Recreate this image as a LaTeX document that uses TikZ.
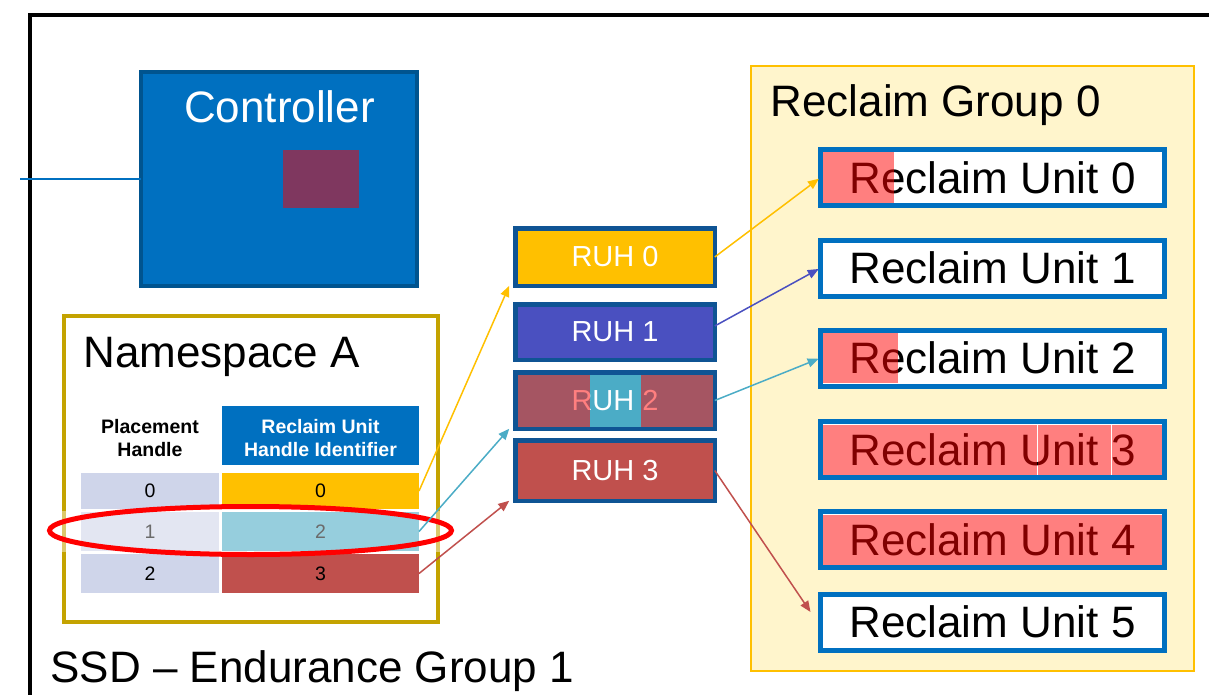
\documentclass[tikz,border=0pt]{standalone}
\usepackage{fontspec}
\setmainfont{Liberation Sans}
\usetikzlibrary{arrows.meta,shapes.geometric}

\definecolor{ctrlblue}{HTML}{0070C0}
\definecolor{ctrledge}{HTML}{00548F}
\definecolor{plum}{HTML}{7F375F}
\definecolor{olive}{HTML}{C4A300}
\definecolor{cellgray}{HTML}{CFD5EA}
\definecolor{amber}{HTML}{FFC000}
\definecolor{tealx}{HTML}{4BACC6}
\definecolor{brick}{HTML}{C0504D}
\definecolor{ruhedge}{HTML}{0F5494}
\definecolor{indigox}{HTML}{4A50C0}
\definecolor{cream}{HTML}{FFF5CC}
\definecolor{ruedge}{HTML}{0070C0}

\newcommand{\bigtxt}{\fontsize{44}{50}\selectfont}
\newcommand{\ruhtxt}{\fontsize{29}{32}\selectfont}
\newcommand{\tabtxt}{\fontsize{19.5}{23}\selectfont}

\tikzset{
  box/.style={rectangle, inner sep=0pt, outer sep=0pt},
  ruhbox/.style={box, draw=ruhedge, line width=4.5pt, minimum width=199.5pt,
    text=white, font=\ruhtxt},
  rubox/.style={box, draw=ruedge, line width=5pt, fill=white, minimum width=344pt,
    minimum height=56pt, font=\bigtxt},
  cell/.style={box, minimum height=36pt, font=\tabtxt},
  lcell/.style={cell, fill=cellgray, minimum width=138pt},
  rcell/.style={cell, minimum width=197pt},
  conn/.style={line width=1.5pt, -{Triangle[length=11pt,width=9pt]}},
  redwash/.style={red, opacity=0.5},
}

\begin{document}
\begin{tikzpicture}[x=1pt,y=-1pt]
\useasboundingbox (0,0) rectangle (1209,695);

% outer frame of the SSD
\draw[line width=4pt, line join=miter] (30,700) -- (30,15) -- (1215,15);

% controller with its host link
\node[box, fill=ctrlblue, draw=ctrledge, line width=4pt,
      minimum width=276pt, minimum height=214pt] (ctrl) at (279,179) {};
\node[anchor=base, text=white, font=\bigtxt] (ctrltxt) at (279.5,123) {Controller};
\node[box, fill=plum, minimum width=76pt, minimum height=58pt] (buf) at (321,179) {};
\coordinate (host) at (20,179);
\draw[ctrlblue, line width=1.5pt] (host) -- (ctrl.west);

% namespace A with its placement handle table
\node[box, draw=olive, line width=4.5pt, minimum width=374pt, minimum height=306pt]
  (ns) at (251,469) {};
\node[anchor=base west, font=\bigtxt] (nstxt) at (80,367) {Namespace A};

\node[align=center, font=\bfseries\tabtxt, anchor=base] (phhead) at (150,456)
  {Placement\\Handle};
\node[box, fill=ctrlblue, minimum width=197pt, minimum height=59pt] (ruhihead)
  at (320.5,435.5) {};
\node[align=center, font=\bfseries\tabtxt, text=white, anchor=base] (ruhitxt)
  at (320.5,456) {Reclaim Unit\\Handle Identifier};

\node[lcell] (p0) at (150,491) {0};
\node[rcell, fill=amber] (r0) at (320.5,491) {0};
\node[lcell, minimum height=39pt] (p1) at (150,531.5) {1};
\node[rcell, fill=tealx, minimum height=39pt] (r1) at (320.5,531.5) {2};
\node[lcell, minimum height=39pt] (p2) at (150,573.5) {2};
\node[rcell, fill=brick, minimum height=39pt] (r2) at (320.5,573.5) {3};

% highlighted row
\fill[white, opacity=0.42] (56,511) rectangle (447,552);
\node[ellipse, draw=red, line width=5pt, minimum width=402pt, minimum height=48pt,
      inner sep=0pt] (hl) at (250.5,530.5) {};

\node[anchor=base west, font=\bigtxt] (ssd) at (47,682) {SSD -- Endurance Group 1};

% reclaim group 0
\node[box, fill=cream, draw=amber, line width=2pt, minimum width=443pt,
      minimum height=605pt] (rg) at (972.5,368.5) {};
\node[anchor=base west, font=\bigtxt] (rgtxt) at (767,117) {Reclaim Group 0};

\node[rubox] (ru0) at (992.5,177.5) {Reclaim Unit 0};
\node[rubox] (ru1) at (992.5,268) {Reclaim Unit 1};
\node[rubox] (ru2) at (992.5,358) {Reclaim Unit 2};
\node[rubox] (ru3) at (992.5,449.5) {Reclaim Unit 3};
\node[rubox] (ru4) at (992.5,539.5) {Reclaim Unit 4};
\node[rubox] (ru5) at (992.5,622) {Reclaim Unit 5};

% filled portions of the reclaim units
\fill[redwash] (823,152.5) rectangle (894,203);
\fill[redwash] (823,333) rectangle (898,383);
\fill[redwash] (823,424.5) rectangle (1037,474.5);
\fill[redwash] (1038,424.5) rectangle (1111,474.5);
\fill[redwash] (1112,424.5) rectangle (1162,474.5);
\fill[redwash] (823,514.5) rectangle (1162,564.5);

% reclaim unit handles
\node[ruhbox, fill=amber, minimum height=57.5pt] (ruh0) at (615,257) {RUH 0};
\node[ruhbox, fill=indigox, minimum height=55.5pt] (ruh1) at (615,332) {RUH 1};
\node[ruhbox, fill=tealx, minimum height=56.5pt] (ruh2) at (615,400.5) {RUH 2};
\node[ruhbox, fill=brick, minimum height=60.5pt] (ruh3) at (615,470.5) {RUH 3};
\fill[redwash] (517.5,374.5) rectangle (590,426.5);
\fill[redwash] (641,374.5) rectangle (712.5,426.5);

% handle mappings
\draw[conn, amber] (r0.east) -- ([xshift=-6pt]ruh0.south west);
\draw[conn, tealx] (r1.east) -- ([xshift=-6pt]ruh2.south west);
\draw[conn, brick] (r2.east) -- ([xshift=-6pt]ruh3.south west);

\draw[conn, amber, shorten >=2pt] (ruh0.east) -- (ru0.west);
\draw[conn, indigox, shorten >=2pt] ([yshift=6pt]ruh1.east) -- (ru1.west);
\draw[conn, tealx, shorten >=2pt] (ruh2.east) -- (ru2.west);
\draw[conn, brick] (ruh3.east) -- ([xshift=-10pt,yshift=10pt]ru5.west);
\end{tikzpicture}
\end{document}
